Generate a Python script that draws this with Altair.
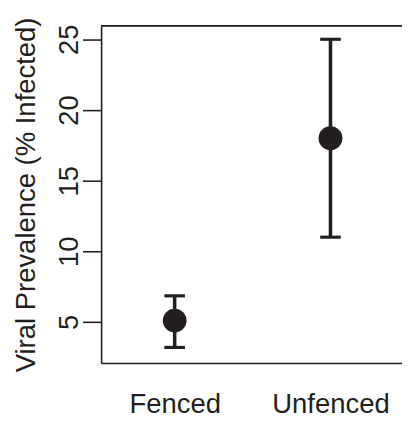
import altair as alt
import pandas as pd

groups = ["Fenced", "Unfenced"]
positions = [1, 2]
means = [5.1, 18.0]
lows = [3.2, 11.0]
highs = [6.85, 25.0]
y_ticks = [5, 10, 15, 20, 25]

df = pd.DataFrame({"group": groups, "pos": positions, "mean": means, "lo": lows, "hi": highs})

INK = "#231f20"
FONT = "Liberation Sans"
FS = 28
W, H = 307, 344

xscale = alt.Scale(domain=[0.528, 2.459], nice=False, zero=False)
yscale = alt.Scale(domain=[2.1, 25.95], nice=False, zero=False)

label_expr = " : ".join(
    [f"datum.value == {p} ? '{g}'" for p, g in zip(positions[:-1], groups[:-1])] + [f"'{groups[-1]}'"]
)

x_axis = alt.Axis(
    values=positions, labelExpr=label_expr, title=None, ticks=False, tickSize=0,
    labelPadding=51, labelBaseline="alphabetic", labelFont=FONT, labelFontSize=FS,
    labelColor=INK, domainColor=INK, domainWidth=1.6, grid=False, labelFlush=False,
)
y_axis = alt.Axis(
    values=y_ticks, title="Viral Prevalence (% Infected)", tickSize=19, tickWidth=1.6,
    tickColor=INK, labelAngle=-90, labelAlign="center", labelBaseline="alphabetic",
    labelPadding=5, labelFont=FONT, labelFontSize=FS, labelColor=INK,
    domainColor=INK, domainWidth=1.6, grid=False,
    titleFont=FONT, titleFontSize=FS, titleFontWeight="normal", titleColor=INK,
    titleAngle=-90, titleAlign="center", titleBaseline="alphabetic",
    titleX=-68, titleY=H / 2, labelFlush=False,
)

X = alt.X("pos:Q", scale=xscale, axis=x_axis)

base = alt.Chart(df)

bars = base.mark_rule(color=INK, strokeWidth=3.6).encode(
    x=X,
    y=alt.Y("lo:Q", scale=yscale, axis=y_axis),
    y2="hi:Q",
)
cap_hi = base.mark_tick(color=INK, orient="horizontal", size=21, thickness=3.2, opacity=1).encode(
    x=X,
    y=alt.Y("hi:Q", scale=yscale, axis=y_axis),
)
cap_lo = base.mark_tick(color=INK, orient="horizontal", size=21, thickness=3.2, opacity=1).encode(
    x=X,
    y=alt.Y("lo:Q", scale=yscale, axis=y_axis),
)
points = base.mark_circle(color=INK, opacity=1, size=590).encode(
    x=X,
    y=alt.Y("mean:Q", scale=yscale, axis=y_axis),
)
top_line = base.mark_rule(color=INK, strokeWidth=1.6).encode(
    x=alt.value(0), x2=alt.value(W), y=alt.value(0)
)

chart = (
    alt.layer(bars, cap_hi, cap_lo, points, top_line)
    .properties(
        width=W, height=H,
        autosize=alt.AutoSizeParams(type="none"),
        padding={"left": 95, "top": 14, "right": 0, "bottom": 56},
    )
    .configure_view(stroke=None)
    .configure(background="white")
)

chart.save("out.html", embed_options={"renderer": "svg", "actions": False})
